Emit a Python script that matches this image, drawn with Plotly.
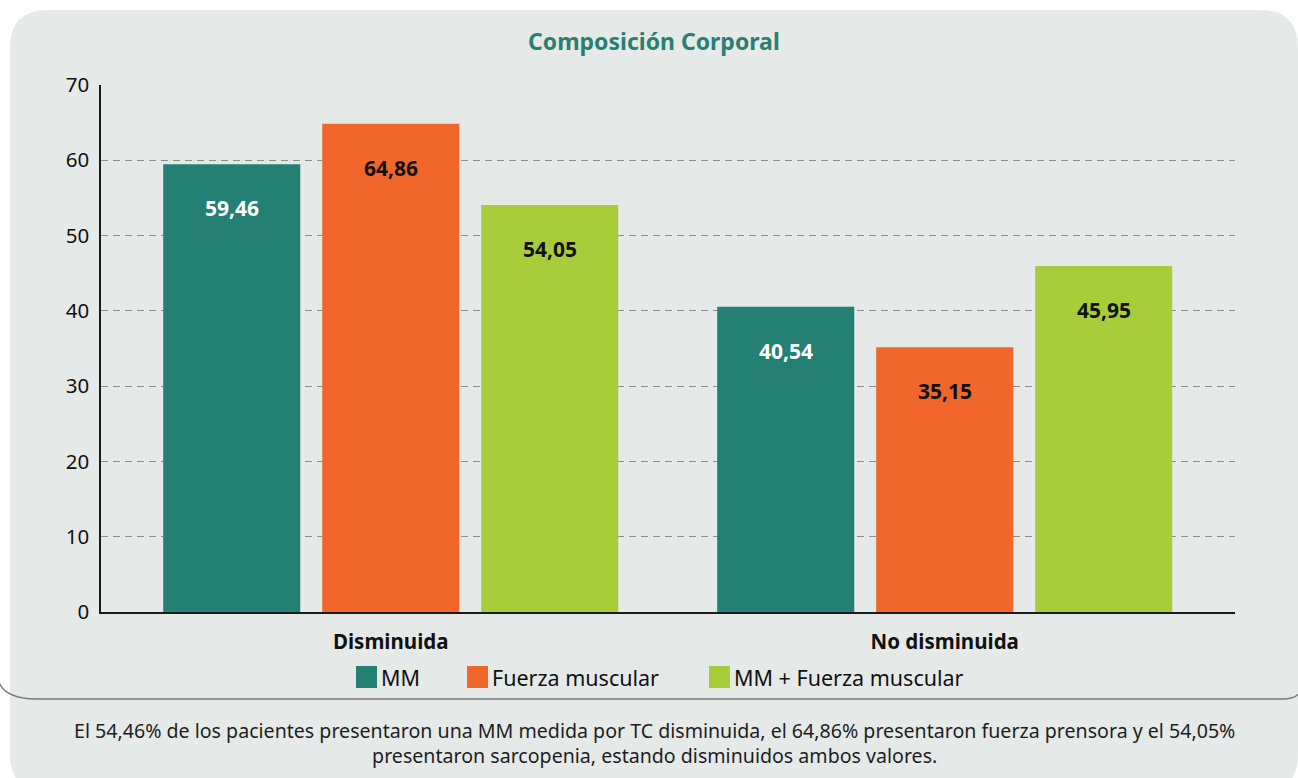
import plotly.graph_objects as go

# ---------------- data ----------------
categories = ["Disminuida", "No disminuida"]
series_names = ["MM", "Fuerza muscular", "MM + Fuerza muscular"]
mm = [59.46, 40.54]
fuerza = [64.86, 35.15]
mm_fuerza = [54.05, 45.95]
y_ticks = [0, 10, 20, 30, 40, 50, 60, 70]
title_text = "Composición Corporal"
caption_lines = [
    "El 54,46% de los pacientes presentaron una MM medida por TC disminuida, el 64,86% presentaron fuerza prensora y el 54,05%",
    "presentaron sarcopenia, estando disminuidos ambos valores.",
]

# ---------------- style ----------------
colors = ["#247F74", "#F1662A", "#A8CD3A"]
label_colors = ["#FFFFFF", "#111111", "#111111"]
panel_bg = "#E5E9E8"
FONT = "Noto Sans"

W, H = 1298, 778
L, R, T, B = 101, 63, 85, 166
pw, ph = W - L - R, H - T - B


def px(x):
    return (x - L) / pw


def py(y):
    return (H - B - y) / ph


bargap = 0.139
bargroupgap = 0.138
x_range = [-0.523, 1.524]

fig = go.Figure()
all_series = [mm, fuerza, mm_fuerza]
xs = list(range(len(categories)))
for name, vals, col in zip(series_names, all_series, colors):
    fig.add_trace(go.Bar(x=xs, y=vals, name=name, marker=dict(color=col, line=dict(width=0)),
                         showlegend=False, hoverinfo="x+y"))

# value labels inside bars
n = len(all_series)
slot = (1 - bargap) / n
annotations = []
for i, (vals, lc) in enumerate(zip(all_series, label_colors)):
    for j, v in enumerate(vals):
        annotations.append(dict(
            x=j + (i - (n - 1) / 2) * slot, y=v, xref="x", yref="y",
            text=f"{v:.2f}".replace(".", ","), showarrow=False, yshift=-44,
            font=dict(family=FONT, size=21, color=lc, weight="bold"),
        ))

# title
annotations.append(dict(x=px(654), y=py(41), xref="paper", yref="paper", text=title_text,
                        showarrow=False, xanchor="center", yanchor="middle",
                        font=dict(family=FONT, size=23, color="#2A7F72", weight="bold")))

# caption (single text block, two lines)
annotations.append(dict(x=px(654), y=py(743), xref="paper", yref="paper",
                        text="<br>".join(caption_lines), align="center",
                        showarrow=False, xanchor="center", yanchor="middle",
                        font=dict(family=FONT, size=19.6, color="#1E1E1E")))

# manual legend
shapes = []
legend_sq_x = [356, 467, 709]
for name, col, sx in zip(series_names, colors, legend_sq_x):
    shapes.append(dict(type="rect", xref="paper", yref="paper",
                       x0=px(sx), x1=px(sx + 21), y0=py(688), y1=py(666),
                       fillcolor=col, line=dict(width=0), layer="above"))
    annotations.append(dict(x=px(sx + 23), y=py(677), xref="paper", yref="paper", text=name,
                            showarrow=False, xanchor="left", yanchor="middle",
                            font=dict(family=FONT, size=21.5, color="#111111")))


def rrect(x0, y0, x1, y1, r):
    return (f"M {px(x0 + r)},{py(y0)} L {px(x1 - r)},{py(y0)} Q {px(x1)},{py(y0)} {px(x1)},{py(y0 + r)} "
            f"L {px(x1)},{py(y1 - r)} Q {px(x1)},{py(y1)} {px(x1 - r)},{py(y1)} "
            f"L {px(x0 + r)},{py(y1)} Q {px(x0)},{py(y1)} {px(x0)},{py(y1 - r)} "
            f"L {px(x0)},{py(y0 + r)} Q {px(x0)},{py(y0)} {px(x0 + r)},{py(y0)} Z")


# outer panel
shapes.append(dict(type="path", xref="paper", yref="paper", path=rrect(10, 10, 1298, 792, 38),
                   fillcolor=panel_bg, line=dict(width=0), layer="below"))
# inner panel bottom border
inner = (f"M {px(-2)},{py(680)} Q {px(4)},{py(699)} {px(36)},{py(699)} "
         f"L {px(1282)},{py(699)} Q {px(1296)},{py(699)} {px(1300)},{py(692)}")
shapes.append(dict(type="path", xref="paper", yref="paper", path=inner,
                   line=dict(color="#7A7A7A", width=1.5), layer="below"))

fig.update_layout(
    width=W, height=H, autosize=False,
    margin=dict(l=L, r=R, t=T, b=B, pad=0),
    paper_bgcolor="#FFFFFF", plot_bgcolor="rgba(0,0,0,0)",
    barmode="group", bargap=bargap, bargroupgap=bargroupgap,
    showlegend=False,
    annotations=annotations, shapes=shapes,
    font=dict(family=FONT, color="#111111"),
)
fig.update_xaxes(
    range=x_range, tickvals=xs, ticktext=categories,
    tickfont=dict(family=FONT, size=20.5, color="#111111", weight="bold"),
    showline=True, linecolor="#1A1A1A", linewidth=1.5, showgrid=False, zeroline=False,
    ticks="", ticklabelstandoff=11,
)
fig.update_yaxes(
    range=[0, 70], tickvals=y_ticks,
    tickfont=dict(family=FONT, size=20.5, color="#111111"),
    showline=True, linecolor="#1A1A1A", linewidth=1.5,
    showgrid=True, gridcolor="#8C8C8C", gridwidth=1.2, griddash="7px,5px",
    zeroline=False, ticks="", ticklabelstandoff=6,
)

fig.write_html(
    "out.html",
    config={"displayModeBar": False},
    post_script="document.body.style.margin='0';document.body.style.overflow='hidden';",
)
